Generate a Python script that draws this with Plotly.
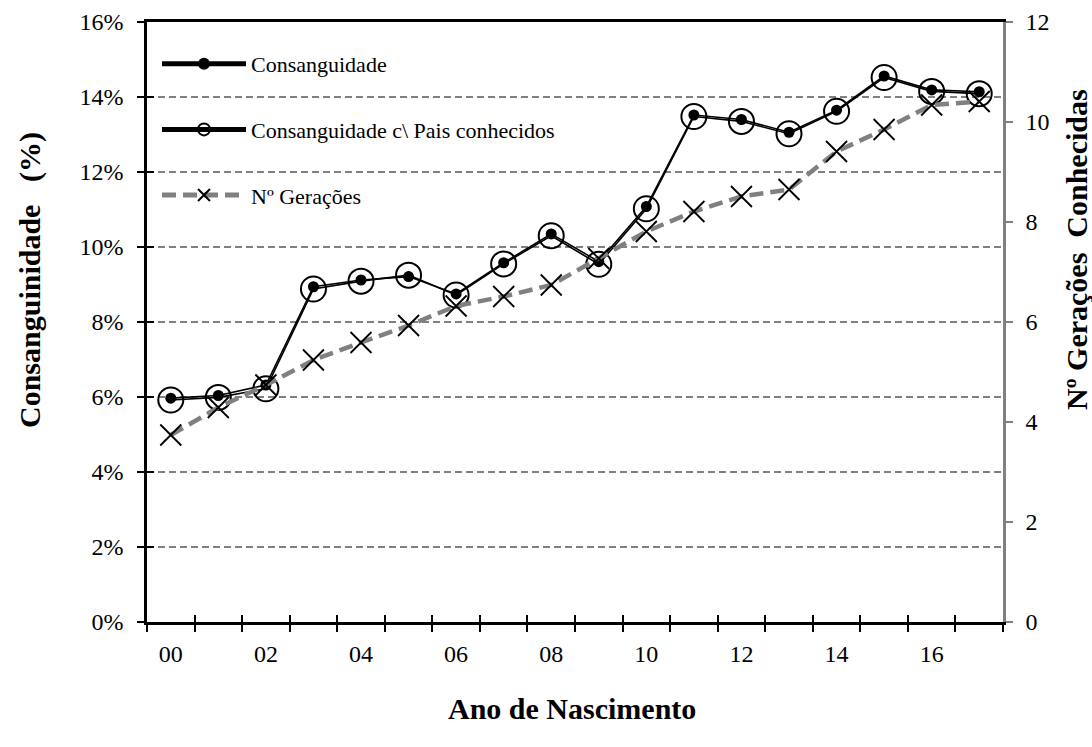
import plotly.graph_objects as go

# ---------------- data ----------------
anos = ["00", "01", "02", "03", "04", "05", "06", "07", "08", "09",
        "10", "11", "12", "13", "14", "15", "16", "17"]
consanguinidade = [5.97, 6.04, 6.32, 8.94, 9.12, 9.21, 8.75, 9.58, 10.35, 9.61,
                   11.08, 13.52, 13.40, 13.06, 13.65, 14.56, 14.19, 14.14]
consang_pais = [5.92, 5.99, 6.22, 8.88, 9.09, 9.25, 8.72, 9.55, 10.30, 9.54,
                11.02, 13.48, 13.35, 13.02, 13.62, 14.52, 14.15, 14.09]
geracoes = [3.74, 4.29, 4.74, 5.24, 5.59, 5.93, 6.32, 6.51, 6.74, 7.27,
            7.81, 8.21, 8.51, 8.65, 9.41, 9.85, 10.34, 10.41]
left_ticks = [0, 2, 4, 6, 8, 10, 12, 14, 16]
right_ticks = [0, 2, 4, 6, 8, 10, 12]

x = list(range(len(anos)))
bounds = [i - 0.5 for i in range(len(anos) + 1)]
FONT = "Liberation Serif"
GRAY = "#808080"

fig = go.Figure()

fig.add_trace(go.Scatter(
    x=x, y=consang_pais, name="Consanguidade c\\ Pais conhecidos",
    mode="lines+markers", legendgroup="b", legendrank=2,
    line=dict(color="black", width=1.6),
    marker=dict(symbol="circle-open", size=25, color="black", line=dict(width=2)),
))
fig.add_trace(go.Scatter(
    x=x, y=consanguinidade, name="Consanguidade",
    mode="lines+markers", legendgroup="a", legendrank=1,
    line=dict(color="black", width=1.6),
    marker=dict(symbol="circle", size=11, color="black"),
))
fig.add_trace(go.Scatter(
    x=x, y=geracoes, name="Nº Gerações", yaxis="y2",
    mode="lines+markers", legendgroup="c", legendrank=3,
    line=dict(color=GRAY, width=4.5, dash="14px,7px"),
    marker=dict(symbol="x-thin-open", size=21, color="black", line=dict(width=1.8, color="black")),
))
# empty trace binding overlay axes used for inward tick marks
fig.add_trace(go.Scatter(x=[], y=[], xaxis="x2", yaxis="y3", showlegend=False, hoverinfo="skip"))

L, R, T, B = 147, 89, 22, 125
W, H = 1092, 747
PW, PH = W - L - R, H - T - B


def px_x(px):
    return (px - L) / PW


def px_y(py):
    return (H - B - py) / PH


fig.update_layout(
    width=W, height=H,
    margin=dict(l=L, r=R, t=T, b=B, autoexpand=False),
    paper_bgcolor="white", plot_bgcolor="white",
    font=dict(family=FONT, size=24, color="black"),
    showlegend=True,
    legend=dict(x=px_x(157), y=0.965, xanchor="left", yanchor="top",
                bgcolor="rgba(0,0,0,0)", font=dict(size=22, family=FONT),
                traceorder="grouped", tracegroupgap=34, itemwidth=84,
                itemsizing="constant"),
    xaxis=dict(range=[-0.5, len(anos) - 0.5], tickmode="array",
               tickvals=x[::2], ticktext=anos[::2], ticks="",
               ticklabelstandoff=8, automargin=False,
               showline=True, linecolor="black", linewidth=2.5, mirror=True,
               showgrid=False, zeroline=False,
               minor=dict(tickmode="array", tickvals=bounds, ticks="outside",
                          ticklen=7, tickwidth=2, tickcolor="black", showgrid=False)),
    xaxis2=dict(overlaying="x", range=[-0.5, len(anos) - 0.5], tickmode="array",
                tickvals=bounds, ticks="inside", ticklen=7, tickwidth=2,
                tickcolor="black", showticklabels=False, showline=False,
                showgrid=False, zeroline=False, anchor="y", automargin=False),
    yaxis=dict(range=[0, 16], tickmode="array", tickvals=left_ticks,
               ticktext=[f"{v}%" for v in left_ticks], ticks="outside",
               ticklen=7, tickwidth=2, tickcolor="black", ticklabelstandoff=9,
               showline=True, linecolor="black", linewidth=2.5, automargin=False,
               showgrid=True, gridcolor=GRAY, gridwidth=1.5, griddash="7px,4px",
               zeroline=False),
    yaxis3=dict(overlaying="y", range=[0, 16], tickmode="array",
                tickvals=left_ticks, ticks="inside", ticklen=7, tickwidth=2,
                tickcolor="black", showticklabels=False, showline=False,
                showgrid=False, zeroline=False, anchor="x", automargin=False),
    yaxis2=dict(overlaying="y", side="right", range=[0, 12], tickmode="array",
                tickvals=right_ticks, ticks="outside", ticklen=7, tickwidth=2,
                tickcolor=GRAY, ticklabelstandoff=8, automargin=False,
                showline=True, linecolor=GRAY, linewidth=2.5,
                showgrid=False, zeroline=False),
    annotations=[
        dict(text="<b>Ano de Nascimento</b>", xref="paper", yref="paper",
             x=px_x(572), y=px_y(708), xanchor="center", yanchor="middle",
             showarrow=False, font=dict(size=30, family=FONT)),
        dict(text="<b>Consanguinidade \u00a0\u00a0(%)</b>", xref="paper", yref="paper",
             x=px_x(30), y=px_y(280), xanchor="center", yanchor="middle",
             textangle=-90, showarrow=False, font=dict(size=30, family=FONT)),
        dict(text="<b>Nº Gerações \u00a0Conhecidas</b>", xref="paper", yref="paper",
             x=px_x(1076), y=px_y(250), xanchor="center", yanchor="middle",
             textangle=-90, showarrow=False, font=dict(size=30, family=FONT)),
    ],
)

fig.write_html("out.html", config={"displayModeBar": False},
               post_script="document.body.style.margin='0';document.body.style.padding='0';")
